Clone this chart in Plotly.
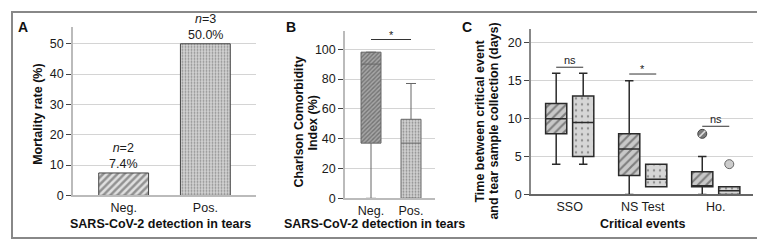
import plotly.graph_objects as go

W, H = 765, 241

# ---------------- data ----------------
a_categories = ["Neg.", "Pos."]
a_mortality = [7.4, 50.0]
a_counts = [2, 3]

b_categories = ["Neg.", "Pos."]
b_lower = [0, 0]
b_q1 = [37, 0]
b_median = [90, 37]
b_q3 = [98, 53]
b_upper = [98, 77]
b_sig = "*"
b_sig_height = 106.5

c_categories = ["SSO", "NS Test", "Ho."]
c_neg_lower = [4, 0, 0]
c_neg_q1 = [8, 2.5, 1]
c_neg_median = [10, 6, 1]
c_neg_q3 = [12, 8, 3]
c_neg_upper = [16, 15, 5]
c_neg_outlier_cat = [2]
c_neg_outlier_val = [8]

c_pos_lower = [4, 1, 0]
c_pos_q1 = [5, 1, 0]
c_pos_median = [9.5, 2, 0.5]
c_pos_q3 = [13, 4, 1]
c_pos_upper = [16, 4, 1]
c_pos_outlier_cat = [2]
c_pos_outlier_val = [4]

c_sig_labels = ["ns", "*", "ns"]
c_sig_heights = [16.8, 15.9, 9.0]

a_yticks = [0, 10, 20, 30, 40, 50]
b_yticks = [0, 20, 40, 60, 80, 100]
c_yticks = [0, 5, 10, 15, 20]

# ---------------- helpers ----------------
def px_x(x):
    return x / W

def px_y(y):
    return 1 - y / H

FONT = "Liberation Sans, Arial, Helvetica, sans-serif"
OFF = 0.185   # group offset in panel C
CW = 0.29     # box width in panel C

fig = go.Figure()

# ---------- Panel A ----------
fig.add_trace(go.Bar(
    x=a_categories, y=a_mortality, width=0.61,
    xaxis="x", yaxis="y",
    marker=dict(
        color=["#e0e0e0", "#d4d4d4"],
        line=dict(color="#444", width=1),
        pattern=dict(shape=["/", "."], fgcolor=["#111", "#8a8a8a"],
                     bgcolor=["#e4e4e4", "#d4d4d4"], size=[5, 3],
                     solidity=[0.5, 0.3]),
    ),
    showlegend=False, hoverinfo="skip",
))

# ---------- Panel B ----------
fig.add_trace(go.Bar(
    x=b_categories,
    y=[q3 - q1 for q1, q3 in zip(b_q1, b_q3)], base=b_q1, width=0.5,
    xaxis="x2", yaxis="y2",
    marker=dict(
        color=["#a5a5a5", "#d2d2d2"],
        line=dict(width=0),
        pattern=dict(shape=["/", "."], fgcolor=["#444", "#8a8a8a"],
                     bgcolor=["#b5b5b5", "#d2d2d2"], size=[3, 3],
                     solidity=[0.45, 0.3]),
    ),
    showlegend=False, hoverinfo="skip",
))
fig.add_trace(go.Box(
    x=b_categories, q1=b_q1, median=b_median, q3=b_q3,
    lowerfence=b_lower, upperfence=b_upper, width=0.5,
    orientation="v", boxpoints=False, whiskerwidth=0.5,
    fillcolor="rgba(0,0,0,0)", line=dict(color="#666", width=1),
    xaxis="x2", yaxis="y2", showlegend=False, hoverinfo="skip",
))

# ---------- Panel C ----------
c_idx = list(range(len(c_categories)))
neg_x = [i - OFF for i in c_idx]
pos_x = [i + OFF for i in c_idx]

fig.add_trace(go.Bar(
    x=neg_x, y=[q3 - q1 for q1, q3 in zip(c_neg_q1, c_neg_q3)], base=c_neg_q1,
    width=CW, xaxis="x3", yaxis="y3",
    marker=dict(color="#c8c8c8", line=dict(width=0),
                pattern=dict(shape="/", fgcolor="#333", bgcolor="#c8c8c8",
                             size=6, solidity=0.35)),
    showlegend=False, hoverinfo="skip",
))
fig.add_trace(go.Bar(
    x=pos_x, y=[q3 - q1 for q1, q3 in zip(c_pos_q1, c_pos_q3)], base=c_pos_q1,
    width=CW, xaxis="x3", yaxis="y3",
    marker=dict(color="#d6d6d6", line=dict(width=0),
                pattern=dict(shape=".", fgcolor="#444", bgcolor="#d6d6d6",
                             size=6, solidity=0.12)),
    showlegend=False, hoverinfo="skip",
))
for xs, q1, med, q3, lo, up in [
    (neg_x, c_neg_q1, c_neg_median, c_neg_q3, c_neg_lower, c_neg_upper),
    (pos_x, c_pos_q1, c_pos_median, c_pos_q3, c_pos_lower, c_pos_upper),
]:
    fig.add_trace(go.Box(
        x=xs, q1=q1, median=med, q3=q3, lowerfence=lo, upperfence=up,
        width=CW, orientation="v", boxpoints=False, whiskerwidth=0.4,
        fillcolor="rgba(0,0,0,0)", line=dict(color="#2a2a2a", width=1.5),
        xaxis="x3", yaxis="y3", showlegend=False, hoverinfo="skip",
    ))
fig.add_trace(go.Scatter(
    x=[c - OFF for c in c_neg_outlier_cat], y=c_neg_outlier_val, mode="markers",
    marker=dict(size=9, color="#7a7a7a", line=dict(color="#444", width=1)),
    xaxis="x3", yaxis="y3", showlegend=False, hoverinfo="skip",
))
fig.add_trace(go.Scatter(
    x=[c - OFF for c in c_neg_outlier_cat], y=c_neg_outlier_val, mode="markers",
    marker=dict(size=6, symbol="line-ne", color="#dddddd",
                line=dict(color="#dddddd", width=1.5)),
    xaxis="x3", yaxis="y3", showlegend=False, hoverinfo="skip",
))
fig.add_trace(go.Scatter(
    x=[c + OFF for c in c_pos_outlier_cat], y=c_pos_outlier_val, mode="markers",
    marker=dict(size=9, color="#cccccc", line=dict(color="#666", width=1)),
    xaxis="x3", yaxis="y3", showlegend=False, hoverinfo="skip",
))

# ---------------- axes ----------------
tickfont = dict(family=FONT, size=12.5, color="#1a1a1a")
common_y = dict(showline=True, linecolor="#bbbbbb", linewidth=1.5,
                ticks="outside", ticklen=5, tickcolor="#444", tickwidth=1,
                showgrid=True, gridcolor="#d4d4d4", gridwidth=1,
                zeroline=False, tickfont=tickfont, fixedrange=True)
common_x = dict(showline=True, linecolor="#bbbbbb", linewidth=1.5,
                ticks="", showgrid=False, zeroline=False, tickfont=tickfont,
                fixedrange=True)

fig.update_layout(
    width=W, height=H, margin=dict(l=0, r=0, t=0, b=0),
    paper_bgcolor="white", plot_bgcolor="white",
    barmode="overlay", font=dict(family=FONT, size=12, color="#222"),
    xaxis=dict(domain=[px_x(65), px_x(248)], range=[-0.62, 1.62],
               anchor="y", **common_x),
    yaxis=dict(domain=[px_y(193), px_y(20)], range=[0, 55.4],
               tickvals=a_yticks, anchor="x", **common_y),
    xaxis2=dict(domain=[px_x(337), px_x(427)], range=[-0.65, 1.6],
                anchor="y2", **common_x),
    yaxis2=dict(domain=[px_y(196), px_y(24)], range=[0, 112],
                tickvals=b_yticks, anchor="x2", **common_y),
    xaxis3=dict(domain=[px_x(523), px_x(745)], range=[-0.53, 2.51],
                tickvals=c_idx, ticktext=c_categories, anchor="y3",
                **{**common_x, "linecolor": "#666"}),
    yaxis3=dict(domain=[px_y(192), px_y(22)], range=[0, 21.8],
                tickvals=c_yticks, anchor="x3",
                **{**common_y, "linecolor": "#888"}),
)

# ---------------- annotations ----------------
ann = []
# bar value labels in A
for cat, v, n in zip(a_categories, a_mortality, a_counts):
    ann.append(dict(x=cat, y=v, xref="x", yref="y", yanchor="bottom",
                    text=f"<i>n</i>={n}<br>{v:.1f}%", showarrow=False,
                    font=dict(size=12.5, color="#1a1a1a"), yshift=0))

# significance in B
fig.add_shape(type="line", xref="x2", yref="y2", x0=0, x1=1,
              y0=b_sig_height, y1=b_sig_height, line=dict(color="#333", width=1))
ann.append(dict(x=0.5, y=b_sig_height, xref="x2", yref="y2", yanchor="bottom",
                text=b_sig, showarrow=False, font=dict(size=11, color="#222"),
                yshift=-3))
# significance in C
for i, (lab, h) in enumerate(zip(c_sig_labels, c_sig_heights)):
    fig.add_shape(type="line", xref="x3", yref="y3", x0=i - OFF, x1=i + OFF,
                  y0=h, y1=h, line=dict(color="#333", width=1))
    ann.append(dict(x=i, y=h, xref="x3", yref="y3", yanchor="bottom",
                    text=lab, showarrow=False, font=dict(size=11, color="#222"),
                    yshift=-3 if lab == "*" else -1))

def pann(x, y, text, angle=0, size=12.5):
    ann.append(dict(x=px_x(x), y=px_y(y), xref="paper", yref="paper",
                    text=text, showarrow=False, textangle=angle,
                    xanchor="center", yanchor="middle",
                    font=dict(family=FONT, size=size, color="#111")))

# panel letters
pann(15, 20, "<b>A</b>", size=14)
pann(283, 20, "<b>B</b>", size=14)
pann(459, 20, "<b>C</b>", size=14)
# x titles
pann(152, 222, "<b>SARS-CoV-2 detection in tears</b>")
pann(366, 222, "<b>SARS-CoV-2 detection in tears</b>")
pann(635, 222, "<b>Critical events</b>")
# y titles
pann(30, 110, "<b>Mortality rate (%)</b>", angle=-90)
pann(291, 118, "<b>Charlson Comorbidity</b>", angle=-90)
pann(305, 118, "<b>Index (%)</b>", angle=-90)
pann(472, 117, "<b>Time between critical event</b>", angle=-90)
pann(486, 117, "<b>and tear sample collection (days)</b>", angle=-90)

fig.update_layout(annotations=ann)

# outer frame
fig.add_shape(type="rect", xref="paper", yref="paper",
              x0=px_x(4), x1=px_x(761), y0=px_y(237), y1=px_y(4),
              line=dict(color="#888", width=2), fillcolor="rgba(0,0,0,0)",
              layer="below")

fig.write_html("out.html")
